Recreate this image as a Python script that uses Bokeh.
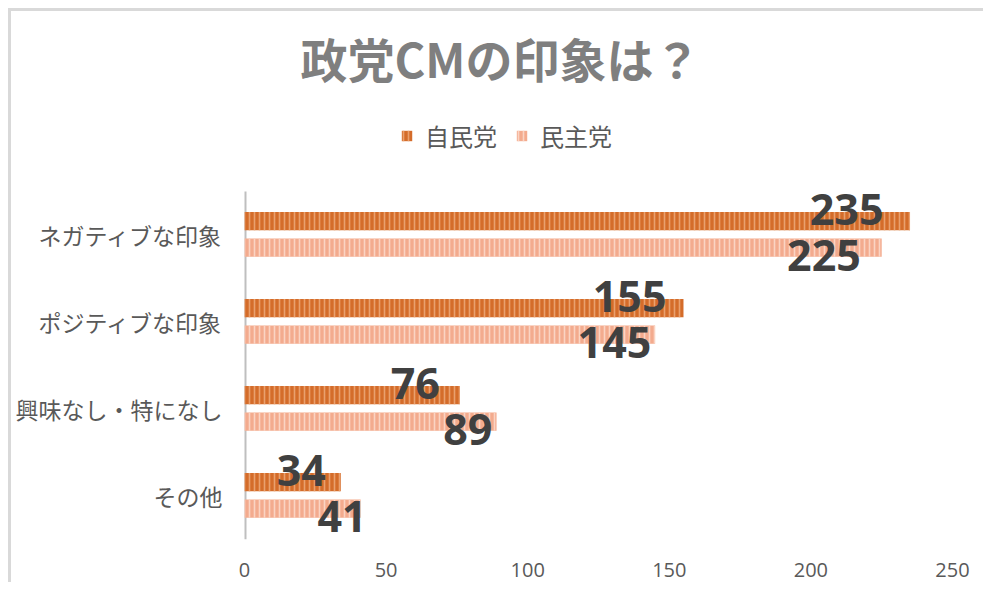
from bokeh.plotting import figure
from bokeh.models import (ColumnDataSource, Range1d, Label, Legend, LegendItem,
                          FixedTicker)
from bokeh.transform import dodge
from bokeh.core.properties import value
from bokeh.embed import file_html
from bokeh.resources import INLINE

categories = ["ネガティブな印象", "ポジティブな印象", "興味なし・特になし", "その他"]
series_names = ["自民党", "民主党"]
ldp = [235, 155, 76, 34]
dpj = [225, 145, 89, 41]
x_ticks = [0, 50, 100, 150, 200, 250]
title_text = "政党CMの印象は？"

n = len(categories)
ypos = [n - 1 - i for i in range(n)]   # first category at the top

src = ColumnDataSource(dict(
    y=ypos, cat=categories,
    ldp=ldp, dpj=dpj,
    ldp_lbl=[str(v) for v in ldp],
    dpj_lbl=[str(v) for v in dpj],
    # data-label anchors, pulled back from the bar ends
    ldp_lx=[0.958 * v - 12.5 for v in ldp],
    dpj_lx=[0.925 * v - 3.5 for v in dpj],
))

W, H = 975, 574
ML, MR, MT, MB = 233, 34, 0, 46
frame_h = H - MT - MB
px_per_cat = 87
y_start = -0.5
y_end = y_start + frame_h / px_per_cat

p = figure(
    width=W, height=H,
    x_range=Range1d(0, 250), y_range=Range1d(y_start, y_end),
    output_backend="svg", toolbar_location=None,
    min_border_left=ML, min_border_right=MR,
    min_border_top=MT, min_border_bottom=MB,
    background_fill_color="white", border_fill_color="white",
)
p.styles = {"margin-left": "8px", "margin-top": "8px",
            "border-top": "3px solid #d9d9d9", "border-left": "3px solid #d9d9d9"}
p.outline_line_color = None
p.xgrid.grid_line_color = None
p.ygrid.grid_line_color = None

# category axis line (only over the category band)
p.segment(x0=[0], x1=[0], y0=[y_start], y1=[n - 0.5], line_color="#bfbfbf", line_width=4)

bar_h = 0.21
r1 = p.hbar(y=dodge("y", 0.16), right="ldp", left=0, height=bar_h,
            source=src, fill_color="#d46c2a", line_color=None,
            hatch_pattern="|", hatch_color="#e9a06e", hatch_scale=5, hatch_weight=1.6)
r2 = p.hbar(y=dodge("y", -0.145), right="dpj", left=0, height=bar_h,
            source=src, fill_color="#f3ab8e", line_color=None,
            hatch_pattern="|", hatch_color="#fad4c3", hatch_scale=5, hatch_weight=1.6)

lbl_font = value("Open Sans")
p.text(x="ldp_lx", y=dodge("y", 0.16), text="ldp_lbl", source=src,
       y_offset=-12, text_align="center", text_baseline="middle",
       text_font=lbl_font, text_font_size="43px", text_font_style="bold", text_color="#404040")
p.text(x="dpj_lx", y=dodge("y", -0.145), text="dpj_lbl", source=src,
       y_offset=8, text_align="center", text_baseline="middle",
       text_font=lbl_font, text_font_size="43px", text_font_style="bold", text_color="#404040")

# y axis: category names
p.yaxis.ticker = FixedTicker(ticks=ypos)
p.yaxis.major_label_overrides = {y: c for y, c in zip(ypos, categories)}
p.yaxis.axis_line_color = None
p.yaxis.major_tick_line_color = None
p.yaxis.minor_tick_line_color = None
p.yaxis.major_label_standoff = 16
p.yaxis.major_label_text_font = "Noto Sans CJK JP"
p.yaxis.major_label_text_font_size = "23px"
p.yaxis.major_label_text_color = "#595959"

# x axis
p.xaxis.axis_line_color = None
p.xaxis.major_tick_line_color = None
p.xaxis.minor_tick_line_color = None
p.xaxis.ticker = x_ticks
p.xaxis.major_label_standoff = 17
p.xaxis.major_label_text_font = "Open Sans"
p.xaxis.major_label_text_font_size = "20px"
p.xaxis.major_label_text_color = "#595959"

# title
p.add_layout(Label(x=256, y=482, x_units="screen", y_units="screen", text=title_text,
                   text_align="center", text_baseline="middle",
                   text_font="Noto Sans CJK JP", text_font_size="47px",
                   text_font_style="bold", text_color="#7f7f7f"))

legend = Legend(items=[LegendItem(label=series_names[0], renderers=[r1]),
                       LegendItem(label=series_names[1], renderers=[r2])],
                location=(156, 386), orientation="horizontal",
                glyph_width=13, glyph_height=13, label_standoff=12, spacing=18,
                padding=0, margin=0,
                label_text_font="Noto Sans CJK JP", label_text_font_size="24px",
                label_text_color="#595959",
                border_line_color=None, background_fill_alpha=0)
p.add_layout(legend, "center")

open("out.html", "w").write(file_html(p, INLINE))
